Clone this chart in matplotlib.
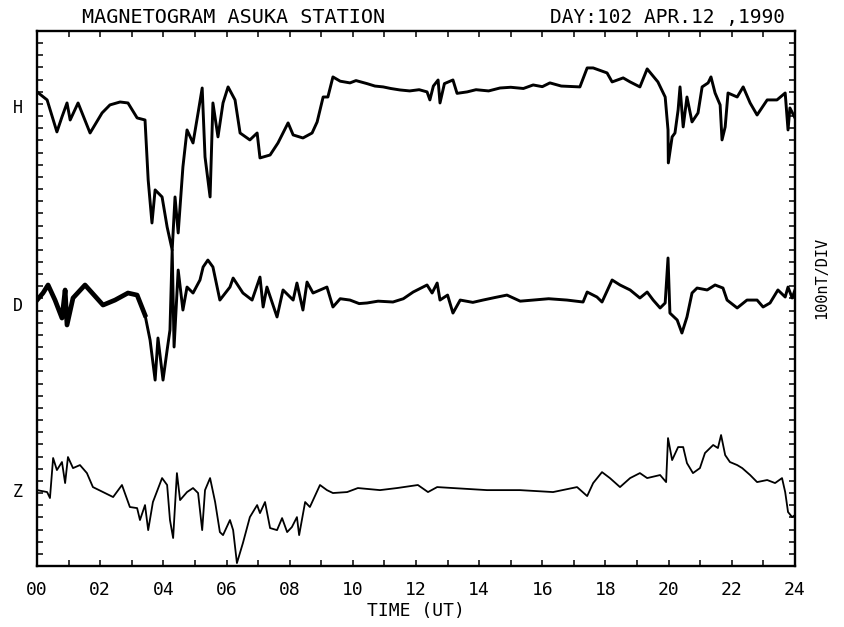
import matplotlib.pyplot as plt
from matplotlib.ticker import MultipleLocator, FixedLocator

# time in hours UT, values in nT relative to each trace's baseline
h_time = [0.00, 0.32, 0.63, 0.79, 0.95, 1.05, 1.30, 1.68, 2.06, 2.31, 2.63, 2.88, 3.17, 3.42,
          3.52, 3.64, 3.74, 3.96, 4.12, 4.28, 4.37, 4.47, 4.62, 4.75, 4.94, 5.10, 5.23, 5.32,
          5.48, 5.57, 5.73, 5.89, 6.05, 6.27, 6.43, 6.74, 6.97, 7.06, 7.38, 7.63, 7.95, 8.11,
          8.42, 8.71, 8.87, 9.06, 9.21, 9.37, 9.60, 9.91, 10.10, 10.45, 10.70, 10.96, 11.20,
          11.49, 11.80, 12.10, 12.35, 12.44, 12.55, 12.70, 12.76, 12.90, 13.17, 13.30, 13.62,
          13.90, 14.30, 14.66, 15.00, 15.40, 15.71, 16.00, 16.24, 16.60, 17.19, 17.42, 17.61,
          18.05, 18.21, 18.56, 18.78, 19.09, 19.32, 19.66, 19.89, 19.98, 19.99, 20.11, 20.20,
          20.30, 20.36, 20.46, 20.58, 20.74, 20.93, 21.06, 21.25, 21.34, 21.47, 21.63, 21.69,
          21.79, 21.88, 22.17, 22.36, 22.58, 22.80, 23.12, 23.43, 23.69, 23.78, 23.84, 24.00]
h_val = [132, 66, -197, -74, 41, -99, 41, -206, -41, 25, 49, 41, -82, -99,
         -592, -946, -674, -732, -979, -1168, -732, -1028, -485, -181, -288, -41, 164, -403,
         -732, 41, -238, 41, 173, 66, -206, -263, -206, -411, -387, -288, -123, -222,
         -247, -206, -115, 90, 90, 255, 220, 206, 225, 200, 180, 173, 160,
         148, 140, 150, 132, 66, 180, 230, 41, 200, 230, 120, 132,
         150, 140, 164, 170, 160, 189, 175, 206, 180, 173, 329, 329,
         288, 214, 247, 214, 173, 321, 214, 90, -181, -452, -238, -206,
         -16, 173, -156, 90, -115, -41, 173, 206, 255, 123, 25, -263,
         -156, 123, 90, 173, 41, -58, 66, 66, 123, -181, 0, -82]

d_time = [0.00, 0.19, 0.35, 0.57, 0.79, 0.89, 0.95, 1.14, 1.52, 2.09, 2.47, 2.88, 3.17, 3.42,
          3.58, 3.74, 3.83, 3.99, 4.12, 4.21, 4.28, 4.34, 4.47, 4.62, 4.75, 4.94, 5.16, 5.26,
          5.41, 5.57, 5.79, 6.11, 6.21, 6.52, 6.81, 7.06, 7.16, 7.28, 7.60, 7.79, 8.11, 8.23,
          8.42, 8.55, 8.74, 9.18, 9.37, 9.60, 9.91, 10.20, 10.45, 10.80, 11.27, 11.60, 11.91,
          12.35, 12.51, 12.67, 12.76, 13.00, 13.17, 13.40, 13.80, 14.12, 14.50, 14.88, 15.30,
          15.71, 16.20, 16.78, 17.29, 17.42, 17.73, 17.89, 18.21, 18.46, 18.78, 19.09, 19.32,
          19.51, 19.73, 19.89, 19.98, 20.04, 20.27, 20.42, 20.58, 20.74, 20.90, 21.22, 21.47,
          21.72, 21.85, 22.17, 22.48, 22.80, 22.99, 23.21, 23.46, 23.69, 23.78, 23.91, 24.00]
d_val = [49, 107, 173, 49, -99, 132, -156, 66, 173, 8, 49, 107, 90, -74,
         -280, -609, -263, -609, -362, -197, 461, -337, 296, -33, 156, 107, 214, 321,
         378, 321, 49, 156, 230, 107, 49, 238, -8, 156, -90, 132, 49, 189,
         -33, 197, 107, 156, -8, 60, 49, 20, 25, 40, 33, 60, 115,
         173, 107, 189, 49, 90, -58, 49, 30, 49, 70, 90, 40,
         49, 60, 49, 33, 115, 74, 33, 214, 173, 132, 66, 115,
         49, -16, 25, 395, -58, -115, -222, -90, 107, 148, 132, 173,
         148, 49, -16, 49, 49, -8, 25, 132, 74, 156, 66, 132]

z_time = [0.00, 0.32, 0.41, 0.51, 0.63, 0.79, 0.89, 0.98, 1.14, 1.36, 1.58, 1.77, 2.09, 2.41,
          2.69, 2.94, 3.17, 3.26, 3.42, 3.52, 3.67, 3.96, 4.12, 4.21, 4.31, 4.43, 4.53, 4.75,
          4.94, 5.10, 5.23, 5.32, 5.48, 5.64, 5.79, 5.89, 6.11, 6.21, 6.33, 6.52, 6.74, 6.97,
          7.06, 7.22, 7.38, 7.60, 7.76, 7.92, 8.07, 8.23, 8.30, 8.49, 8.64, 8.96, 9.18, 9.37,
          9.82, 10.16, 10.86, 11.40, 12.06, 12.38, 12.67, 13.17, 14.25, 15.29, 16.34, 17.10,
          17.42, 17.61, 17.89, 18.14, 18.46, 18.78, 19.09, 19.32, 19.73, 19.92, 19.98, 20.11,
          20.30, 20.46, 20.58, 20.77, 20.99, 21.15, 21.41, 21.56, 21.66, 21.79, 21.94, 22.17,
          22.33, 22.58, 22.80, 23.12, 23.37, 23.59, 23.69, 23.78, 23.91, 24.00]
z_val = [16, 0, -49, 280, 181, 247, 74, 288, 197, 222, 156, 41, 0, -41,
         58, -123, -132, -230, -107, -313, -82, 115, 58, -230, -378, 156, -66, 0,
         33, -8, -313, 16, 115, -82, -329, -354, -230, -313, -584, -419, -206, -107,
         -173, -82, -296, -313, -214, -329, -288, -206, -354, -82, -123, 58, 16, -8,
         0, 33, 16, 33, 58, 0, 41, 33, 16, 16, 0, 41,
         -33, 74, 164, 115, 41, 115, 156, 115, 140, 82, 444, 263,
         370, 370, 238, 156, 197, 321, 387, 362, 469, 304, 247, 222,
         197, 140, 82, 99, 74, 115, 0, -164, -206, -189]

# baseline of each trace on the common plot scale (nT)
offsets = {"H": 3767, "D": 2138, "Z": 608}
mono = "DejaVu Sans Mono"

fig = plt.figure(figsize=(8.45, 6.27), dpi=100)
ax = fig.add_axes([0.0438, 0.0973, 0.8970, 0.8533])

ax.plot(h_time, [v + offsets["H"] for v in h_val], color="black", lw=2.1, solid_joinstyle="round")
ax.plot(d_time, [v + offsets["D"] for v in d_val], color="black", lw=2.1, solid_joinstyle="round")
# the early D record is drawn as a heavy band on the original
n_early = sum(t <= 3.5 for t in d_time)
ax.plot(d_time[:n_early], [v + offsets["D"] for v in d_val[:n_early]], color="black", lw=3.4,
        solid_joinstyle="round")
ax.plot(z_time, [v + offsets["Z"] for v in z_val], color="black", lw=1.3, solid_joinstyle="round")

ax.set_xlim(0, 24)
ax.set_ylim(0, 4400)
for s in ax.spines.values():
    s.set_linewidth(1.7)

ax.xaxis.set_major_locator(FixedLocator(range(0, 25, 2)))
ax.xaxis.set_minor_locator(MultipleLocator(1))
ax.set_xticklabels(["%02d" % h for h in range(0, 25, 2)], fontfamily=mono, fontsize=13)
ax.yaxis.set_major_locator(MultipleLocator(100))
ax.set_yticklabels([])
ax.tick_params(axis="both", which="both", direction="in", top=True, right=True,
               length=4.5, width=1.1)
ax.tick_params(axis="x", which="major", pad=11)

ax.set_xlabel("TIME (UT)", fontfamily=mono, fontsize=13, labelpad=2)

trans = ax.get_yaxis_transform()
for name, off in offsets.items():
    ax.text(-0.025, off, name, transform=trans, ha="center", va="center",
            fontfamily=mono, fontsize=12)

fig.text(0.276, 0.972, "MAGNETOGRAM ASUKA STATION", ha="center", va="center",
         fontfamily=mono, fontsize=14.5)
fig.text(0.929, 0.972, "DAY:102 APR.12 ,1990", ha="right", va="center",
         fontfamily=mono, fontsize=14)
fig.text(0.972, 0.556, "100nT/DIV", rotation=90, ha="center", va="center",
         fontfamily=mono, fontsize=11)

fig.savefig("out.png", dpi=100, facecolor="white")
